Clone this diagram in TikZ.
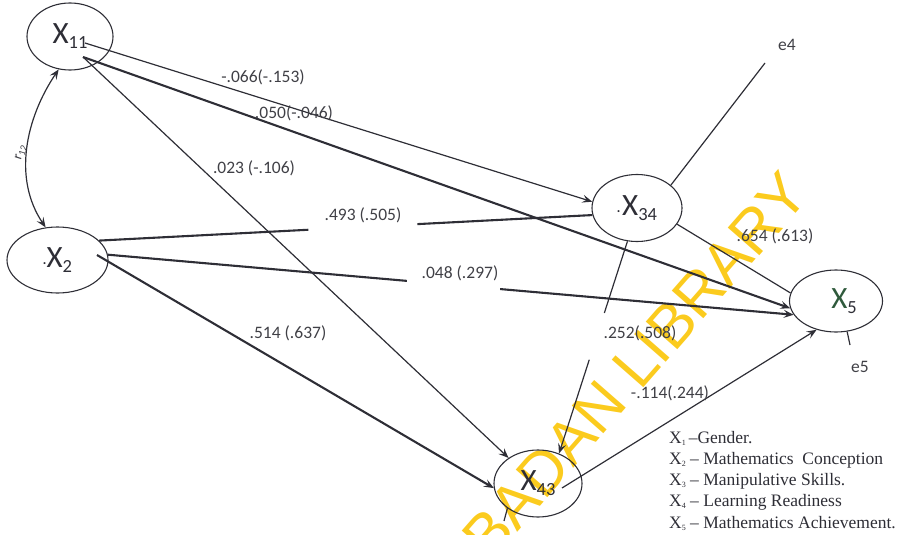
\documentclass[tikz,border=0pt]{standalone}
\usepackage{fontspec}
\setmainfont{Carlito}
\newfontfamily\legendfont{Liberation Serif}
\newfontfamily\markfont{Liberation Sans}
\usetikzlibrary{shapes.geometric,arrows.meta,calc}
\definecolor{ink}{HTML}{2E2E36}
\definecolor{labelink}{HTML}{404046}
\definecolor{stamp}{HTML}{FBCB1E}
\definecolor{xgreen}{HTML}{2F5A3C}
% variable name with lowered index
\newcommand\vname[2]{{\fontsize{31}{31}\selectfont #1}\raisebox{-5pt}{\fontsize{18.5}{18.5}\selectfont #2}}
\newcommand\lsub[1]{\raisebox{-2pt}{\fontsize{8}{8}\selectfont #1}}
\begin{document}
\begin{tikzpicture}[x=1pt,y=-1pt,
  var/.style={ellipse, draw=ink, line width=1.1pt, inner sep=0pt, text=ink},
  conn/.style={draw=ink, line width=1.2pt},
  heavy/.style={draw=ink, line width=2.1pt},
  tip/.style={-{Stealth[length=10pt,width=8pt,inset=4pt]}},
  coef/.style={text=labelink, inner sep=0pt, font=\fontsize{17.5}{20}\selectfont},
  legendline/.style={anchor=base west, inner sep=0pt, text=ink,
    font=\legendfont\fontsize{17.5}{20}\selectfont}]
\useasboundingbox (0,0) rectangle (905,535);

% library stamp behind the drawing
\node[text=stamp, rotate=48.8, inner sep=0pt,
  font=\markfont\fontsize{61}{61}\selectfont] (stampmark) at (630,372) {IBADAN LIBRARY};

% variables
\node[var, minimum width=86pt, minimum height=67pt] (X11) at (70,36.5) {\vname{X}{11}};
\node[var, minimum width=101pt, minimum height=66pt] (X2) at (57.5,260)
  {{\fontsize{14}{14}\selectfont ·}\vname{X}{2}};
\node[var, minimum width=90pt, minimum height=67pt] (X34) at (637,208)
  {{\fontsize{14}{14}\selectfont ·}\,\vname{X}{34}};
\node[var, minimum width=93pt, minimum height=62pt] (X5) at (836,301)
  {\hspace*{16pt}\vname{\textcolor{xgreen}{X}}{5}};
\node[var, minimum width=88pt, minimum height=67pt] (X43) at (538,483.5) {\vname{X}{43}};

% paths from X11
\draw[conn, tip] ($(X11)+(15,6.5)$) -- (X34.172);
\draw[heavy, tip] ($(X11)+(13,20.5)$) -- (X5.189);
\draw[conn, tip] ($(X11)+(13,20.5)$) -- (X43.139);

% paths from X2 (broken where the coefficient sits)
\path (X2.25) -- (X34.189) coordinate[pos=.424] (g1a) coordinate[pos=.645] (g1b);
\draw[heavy] (X2.25) -- (g1a);
\draw[heavy] (g1b) -- (X34.189);
\path (X2.6) -- (X5.198) coordinate[pos=.436] (g2a) coordinate[pos=.572] (g2b);
\draw[heavy] (X2.6) -- (g2a);
\draw[heavy, tip] (g2b) -- (X5.198);
\draw[heavy, tip] ($(X2)+(39.5,-5)$) -- (X43.186);

% paths from X34 and X43
\draw[conn] (X34.338) -- (X5.170);
\path (X34.254) -- (X43.55) coordinate[pos=.338] (g3a) coordinate[pos=.558] (g3b);
\draw[conn] (X34.254) -- (g3a);
\draw[conn, tip] (g3b) -- (X43.55);
\draw[conn, tip] ($(X43)+(24,4.5)$) -- (X5.236);

% correlation between X11 and X2
\draw[conn, {Stealth[length=10pt,width=8pt,inset=4pt]}-{Stealth[length=10pt,width=8pt,inset=4pt]}]
  (X2.110) .. controls ($(X2.110)+(-33,-49)$) and ($(X11.251)+(-33,49)$) .. (X11.251);
\node[coef, rotate=72, font=\fontsize{14}{14}\selectfont] (r12) at (21,152) {r\textsubscript{12}};

% disturbances
\coordinate (e4end) at (765,63);
\draw[conn] (X34.34) -- (e4end);
\node[coef] (e4) at (787,45) {e4};
\coordinate (e5end) at (850,345);
\draw[conn] (X5.290) -- (e5end);
\node[coef] (e5) at (860,367) {e5};
\coordinate (e3end) at (504,521);
\draw[conn] (X43.219) -- (e3end);
\node[coef] (e3) at (497,543) {e3};

% path coefficients
\node[coef] (c1) at (263,77) {-.066(-.153)};
\node[coef] (c2) at (294,113) {.050(-.046)};
\node[coef] (c3) at (254,168) {.023 (-.106)};
\node[coef] (c4) at (363,215) {.493 (.505)};
\node[coef] (c5) at (460,273) {.048 (.297)};
\node[coef] (c6) at (288,333) {.514 (.637)};
\node[coef] (c7) at (775,236) {.654 (.613)};
\node[coef] (c8) at (640,333) {.252(.508)};
\node[coef] (c9) at (670,393) {-.114(.244)};

% key to the variables
\node[legendline] (k1) at (669,443) {X\lsub{1}\,–Gender.};
\node[legendline] (k2) at (669,464) {X\lsub{2} – Mathematics\ \ Conception};
\node[legendline] (k3) at (669,485) {X\lsub{3} – Manipulative Skills.};
\node[legendline] (k4) at (669,506.5) {X\lsub{4} – Learning Readiness};
\node[legendline] (k5) at (669,528) {X\lsub{5} – Mathematics Achievement.};
\end{tikzpicture}
\end{document}
